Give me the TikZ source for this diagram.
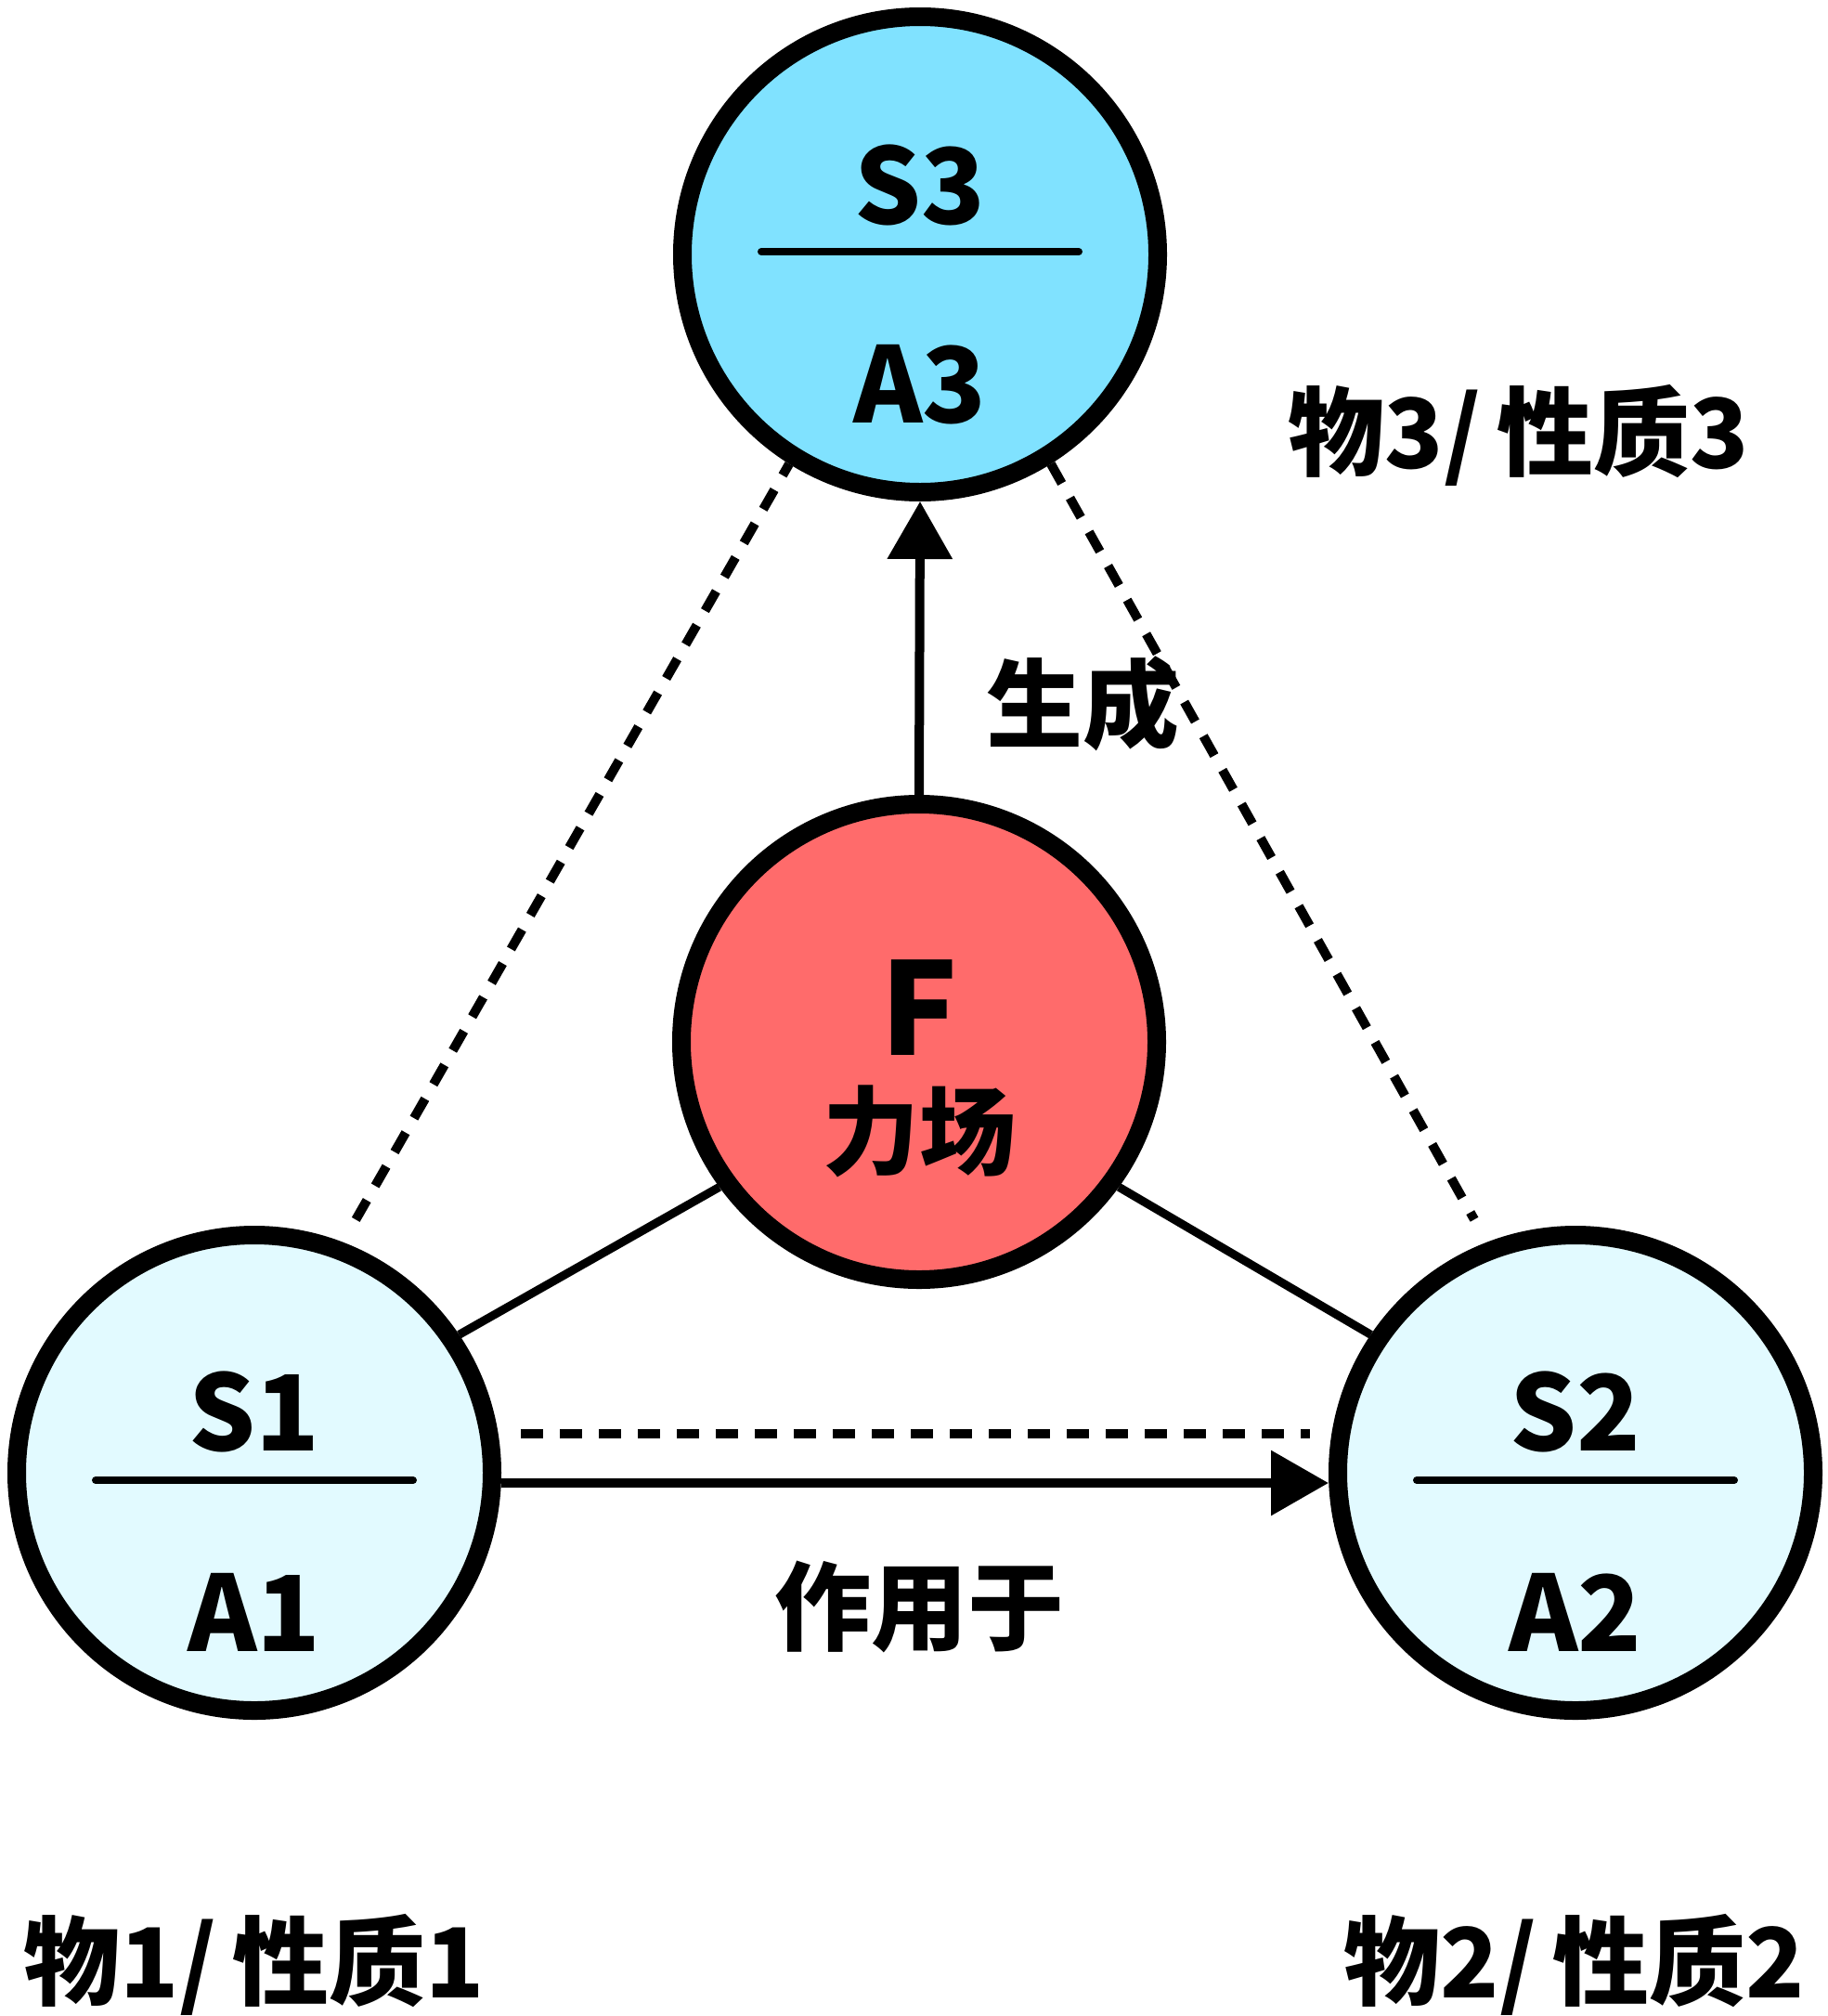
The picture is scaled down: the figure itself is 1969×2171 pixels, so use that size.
\documentclass[tikz,border=0pt]{standalone}
\usepackage{fontspec}
\setmainfont{Noto Sans CJK SC}
\usetikzlibrary{arrows.meta,calc}
\definecolor{fillS}{HTML}{E2FAFF}
\definecolor{fillT}{HTML}{80E2FF}
\definecolor{fillF}{HTML}{FF6B6B}
\begin{document}
\begin{tikzpicture}[x=1pt,y=-1pt,
  ball/.style={circle,draw=black,line width=20pt,minimum size=512pt,inner sep=0pt,outer sep=10pt},
  divider/.style={line width=8pt,line cap=round},
  lbl/.style={font=\bfseries\fontsize{113}{113}\selectfont,inner sep=0pt},
  flbl/.style={font=\bfseries\fontsize{138}{138}\selectfont,inner sep=0pt},
  cn/.style={font=\bfseries\fontsize{104}{104}\selectfont,inner sep=0pt},
  solidline/.style={line width=9pt},
  dashline/.style={line width=10pt,dash pattern=on 24pt off 18pt},
  arr/.style={line width=10pt,-{Triangle[length=62pt,width=68pt]}}
]
\useasboundingbox (0,0) rectangle (1969,2171);
% circles
\node[ball,fill=fillT] (S3) at (991,274) {};
\node[ball,fill=fillF] (F) at (990,1122) {};
\node[ball,fill=fillS] (S1) at (274,1586) {};
\node[ball,fill=fillS] (S2) at (1697,1586) {};
% dividers
\draw[divider] ($(S3)+(-171,-3)$) -- ($(S3)+(171,-3)$);
\draw[divider] ($(S1)+(-171,8)$) -- ($(S1)+(171,8)$);
\draw[divider] ($(S2)+(-171,8)$) -- ($(S2)+(171,8)$);
% circle texts
\node[lbl] (s3t) at ($(S3)+(0,-75)$) {S3};
\node[lbl] (a3t) at ($(S3)+(0,140)$) {A3};
\node[lbl] (s1t) at ($(S1)+(0,-66)$) {S1};
\node[lbl] (a1t) at ($(S1)+(0,150)$) {A1};
\node[lbl] (s2t) at ($(S2)+(0,-66)$) {S2};
\node[lbl] (a2t) at ($(S2)+(0,150)$) {A2};
\node[flbl] (ft) at ($(F)+(0,-37)$) {F};
\node[cn] (fcn) at ($(F)+(0,96)$) {力场};
% connectors
\draw[arr] (F.90) -- (S3.270);
\draw[solidline] (S1.34) -- (F.216);
\draw[solidline] (F.324) -- (S2.146);
\draw[dashline,shorten <=28pt] (S1.69) -- (S3.238);
\draw[dashline,shorten >=28pt] (S3.302) -- (S2.111);
\draw[dashline,shorten <=21pt,shorten >=20pt] ($(S1.east)+(0,-42)$) -- ($(S2.west)+(0,-42)$);
\draw[arr] ($(S1.east)+(0,11)$) -- ($(S2.west)+(0,11)$);
% labels
\node[cn] (gen) at (1166,758) {生成};
\node[cn] (act) at (990,1730) {作用于};
\node[cn] (l3) at (1636,469) {物3/\,性质3};
\node[cn] (l1) at (274,2116) {物1/\,性质1};
\node[cn] (l2) at (1696,2116) {物2/\,性质2};
\end{tikzpicture}
\end{document}
